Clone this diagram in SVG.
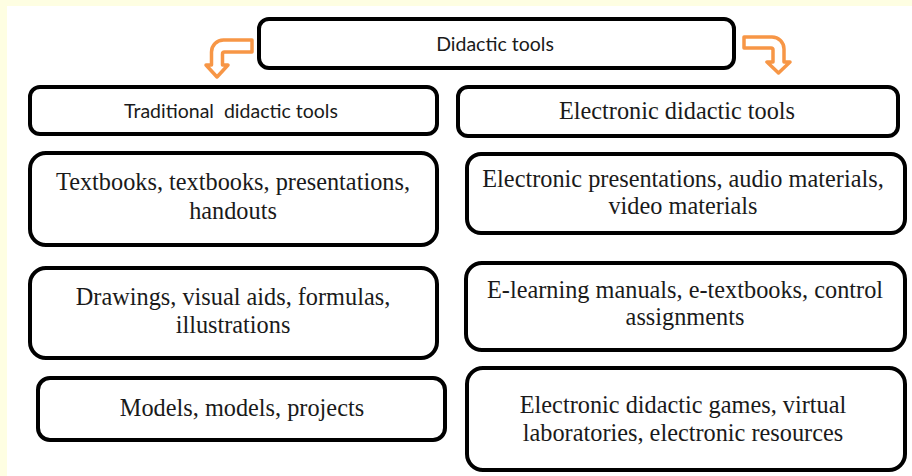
<svg xmlns="http://www.w3.org/2000/svg" width="912" height="476" viewBox="0 0 912 476">
<style>
.box{fill:#fff;stroke:#000;stroke-width:4}
.sans{font-family:Lato,"Liberation Sans",sans-serif;font-size:19.5px;fill:#1a1a1a;text-anchor:middle;white-space:pre}
.serif{font-family:"Liberation Serif","Times New Roman",serif;font-size:24.3px;fill:#1a1a1a;text-anchor:middle}
.arrow{fill:#fff;stroke:#F79646;stroke-width:3.5;stroke-linejoin:round}
</style>
<rect x="0" y="0" width="912" height="476" fill="#fff"/>
<rect x="0" y="0" width="912" height="6" fill="#FEFEE2"/>
<rect x="0" y="0" width="7" height="476" fill="#FEFEE2"/>

<g id="connectors">
<path class="arrow" d="M252,40 H223.5 A12,12 0 0 0 211.5,52 V65 H206 L217,77 L228,65 H222.5 V54 A2,2 0 0 1 224.5,52 H252 Z"/>
<path class="arrow" d="M744,37 H772 A12,12 0 0 1 784,49 V62 H790 L778.5,73 L767,62 H773 V50 A2,2 0 0 0 771,48 H744 Z"/>
</g>

<g id="didactic-tools">
<rect class="box" x="259" y="19" width="475" height="49" rx="10"/>
<text class="sans" x="495" y="51">Didactic tools</text>
</g>

<g id="traditional">
<rect class="box" x="30" y="87" width="407" height="47" rx="10"/>
<text class="sans" x="231" y="118">Traditional  didactic tools</text>
</g>

<g id="electronic">
<rect class="box" x="458" y="87" width="440" height="49" rx="10"/>
<text class="serif" x="677" y="119">Electronic didactic tools</text>
</g>

<g id="textbooks">
<rect class="box" x="30" y="153" width="407" height="92" rx="16"/>
<text class="serif" x="233" y="190">Textbooks, textbooks, presentations,</text>
<text class="serif" x="233" y="219">handouts</text>
</g>

<g id="drawings">
<rect class="box" x="30" y="268" width="407" height="90" rx="16"/>
<text class="serif" x="233" y="305">Drawings, visual aids, formulas,</text>
<text class="serif" x="233" y="333">illustrations</text>
</g>

<g id="models">
<rect class="box" x="38" y="378" width="407" height="62" rx="12"/>
<text class="serif" x="242" y="416">Models, models, projects</text>
</g>

<g id="e-presentations">
<rect class="box" x="467" y="154" width="438" height="79" rx="14"/>
<text class="serif" x="683" y="187">Electronic presentations, audio materials,</text>
<text class="serif" x="683" y="214">video materials</text>
</g>

<g id="e-learning">
<rect class="box" x="466" y="263" width="439" height="87" rx="16"/>
<text class="serif" x="685" y="298">E-learning manuals, e-textbooks, control</text>
<text class="serif" x="685" y="325">assignments</text>
</g>

<g id="e-games">
<rect class="box" x="467" y="368" width="438" height="102" rx="16"/>
<text class="serif" x="683" y="413">Electronic didactic games, virtual</text>
<text class="serif" x="683" y="441">laboratories, electronic resources</text>
</g>
</svg>
